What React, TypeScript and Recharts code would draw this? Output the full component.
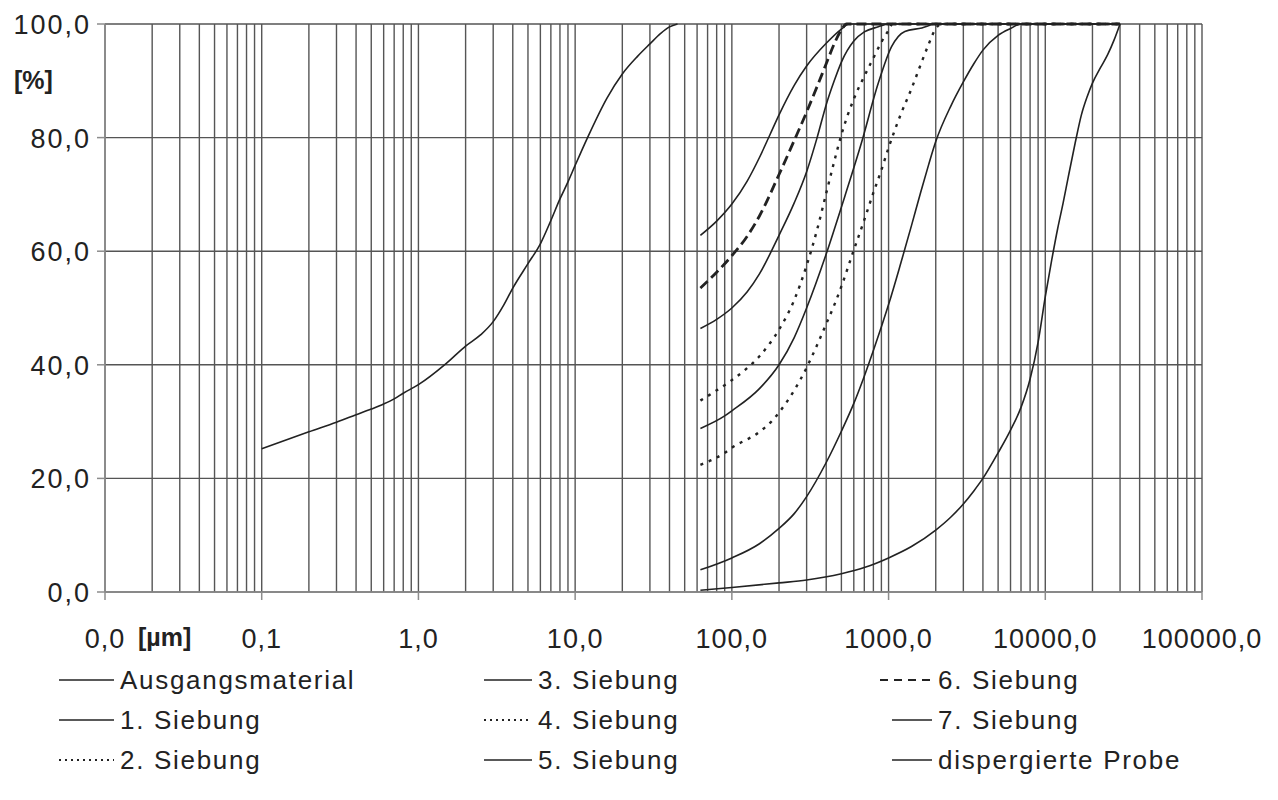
import { LineChart, Line, XAxis, YAxis, CartesianGrid } from 'recharts'

const FONT = '"Liberation Sans", Arial, sans-serif'
const INK = '#222'
const GRID = '#555'

// log grid: 1..9 in every decade from 0.01 to 100000
const gridTicks: number[] = []
for (let e = -2; e <= 4; e++) {
  for (let m = 1; m <= 9; m++) gridTicks.push(Number((m * 10 ** e).toPrecision(6)))
}
gridTicks.push(100000)

const yTicks = [0, 20, 40, 60, 80, 100]

// particle size [µm] / passing [%]
const ausgSize = [0.1, 0.2, 0.3, 0.4, 0.5, 0.6, 0.7, 0.8, 1, 1.5, 2, 2.5, 3, 3.5, 4, 5, 6, 7, 8, 9, 10, 12, 16, 20, 25, 30, 35, 40, 45]
const ausgPct = [25.2, 28.2, 29.9, 31.2, 32.2, 33.1, 34.0, 35.0, 36.5, 40.2, 43.3, 45.3, 47.6, 50.5, 53.5, 57.8, 61.3, 65.4, 69.2, 72.2, 75.1, 80.0, 87.0, 91.2, 94.3, 96.5, 98.3, 99.5, 100]

const sieb1Size = [63, 100, 200, 300, 500, 700, 1000, 1400, 2000, 2500, 3000, 3500, 4000, 5000, 6000, 7000, 8000, 9000, 10000, 11000, 12000, 13000, 14000, 15500, 17000, 18500, 20000, 22500, 25000, 27500, 30000]
const sieb1Pct = [0.3, 0.8, 1.6, 2.1, 3.2, 4.3, 6.0, 8.0, 10.9, 13.2, 15.5, 17.8, 20.0, 24.5, 28.5, 32.5, 37.5, 44.0, 52.0, 58.5, 64.0, 68.5, 73.0, 79.0, 84.0, 87.2, 89.6, 92.3, 94.6, 97.2, 100]

const sieb2Size = [63, 90, 100, 150, 180, 200, 250, 300, 350, 400, 450, 500, 600, 700, 800, 900, 1000, 1200, 1400, 1600, 1800, 2000, 2200, 30000]
const sieb2Pct = [22.4, 24.5, 25.4, 28.2, 30.1, 31.6, 35.5, 39.5, 43.5, 47.2, 50.5, 53.8, 60.2, 65.5, 70.3, 74.3, 78.2, 84.2, 88.6, 92.8, 96.4, 99.2, 100, 100]

const sieb3Size = [63, 90, 100, 150, 200, 250, 300, 400, 525, 670, 860, 1045, 1270, 1630, 2000, 30000]
const sieb3Pct = [28.8, 31.0, 31.9, 35.8, 40.0, 44.8, 50.0, 59.5, 69.6, 79.0, 89.6, 96.0, 98.7, 99.3, 100, 100]

const sieb4Size = [63, 80, 100, 125, 150, 175, 200, 250, 300, 350, 400, 450, 500, 600, 700, 800, 900, 1000, 1060, 30000]
const sieb4Pct = [33.7, 35.5, 37.3, 39.4, 41.5, 43.8, 46.2, 51.4, 57.5, 63.8, 70.2, 75.8, 80.5, 86.8, 90.8, 94.0, 96.8, 98.9, 100, 100]

const sieb5Size = [63, 80, 100, 125, 150, 200, 250, 300, 350, 400, 450, 500, 600, 700, 860, 1000, 30000]
const sieb5Pct = [46.4, 48.0, 50.0, 52.8, 56.0, 62.8, 68.5, 74.0, 80.0, 85.8, 90.0, 93.3, 97.0, 98.6, 99.5, 100, 100]

const sieb6Size = [63, 80, 100, 125, 150, 200, 250, 300, 350, 400, 450, 500, 540, 30000]
const sieb6Pct = [53.5, 56.3, 59.2, 62.6, 66.2, 73.5, 79.5, 84.5, 89.0, 93.0, 96.5, 99.0, 100, 100]

const sieb7Size = [63, 80, 100, 125, 150, 175, 200, 250, 300, 400, 500, 560, 30000]
const sieb7Pct = [62.8, 65.3, 68.3, 72.3, 76.5, 80.5, 84.0, 89.2, 92.6, 96.6, 99.1, 100, 100]

const dispSize = [63, 100, 150, 200, 250, 300, 400, 500, 600, 700, 800, 900, 1000, 1200, 1400, 1600, 1800, 2000, 2500, 3000, 3500, 4000, 5000, 6000, 7000, 30000]
const dispPct = [3.9, 6.0, 8.5, 11.2, 13.8, 16.8, 22.8, 28.3, 33.2, 38.0, 42.5, 46.7, 50.6, 58.0, 64.5, 70.3, 75.2, 79.3, 85.6, 89.8, 93.0, 95.4, 98.0, 99.2, 100, 100]

const toPoints = (size: number[], pct: number[]) => size.map((x, i) => ({ x, y: pct[i] }))

type Series = { name: string; size: number[]; pct: number[]; dash?: string; width: number; legendDash?: string }

const series: Series[] = [
  { name: 'Ausgangsmaterial', size: ausgSize, pct: ausgPct, width: 1.6 },
  { name: '1. Siebung', size: sieb1Size, pct: sieb1Pct, width: 1.6 },
  { name: '2. Siebung', size: sieb2Size, pct: sieb2Pct, dash: '3 6', width: 2.4, legendDash: '2 4' },
  { name: '3. Siebung', size: sieb3Size, pct: sieb3Pct, width: 1.6 },
  { name: '4. Siebung', size: sieb4Size, pct: sieb4Pct, dash: '3 6', width: 2.4, legendDash: '2 4' },
  { name: '5. Siebung', size: sieb5Size, pct: sieb5Pct, width: 1.6 },
  { name: '6. Siebung', size: sieb6Size, pct: sieb6Pct, dash: '10 5', width: 2.8, legendDash: '8 6' },
  { name: '7. Siebung', size: sieb7Size, pct: sieb7Pct, width: 1.6 },
  { name: 'dispergierte Probe', size: dispSize, pct: dispPct, width: 1.6 },
]

const isDecade = (v: number) => Math.abs(Math.log10(v) - Math.round(Math.log10(v))) < 1e-9
const fmt = (v: number) => v.toFixed(1).replace('.', ',')

function XTick({ x, y, payload }: any) {
  const v = payload.value
  if (!isDecade(v)) return null
  return (
    <g>
      <line x1={x} y1={y - 8} x2={x} y2={y} stroke='#8c8c8c' strokeWidth={1.5} />
      <text x={x} y={y + 48} textAnchor='middle' fontFamily={FONT} fontSize={27} fill={INK} letterSpacing={1}>
        {fmt(v)}
      </text>
      {v === 0.01 && (
        <text x={x + 33} y={y + 46} fontFamily={FONT} fontSize={25} fontWeight='bold' fill={INK}>
          [µm]
        </text>
      )}
    </g>
  )
}

function YTick({ x, y, payload }: any) {
  const v = payload.value
  return (
    <g>
      <line x1={x} y1={y} x2={x + 8} y2={y} stroke='#8c8c8c' strokeWidth={1.5} />
      <text x={x - 6} y={y + 10} textAnchor='end' fontFamily={FONT} fontSize={27} fill={INK} letterSpacing={2}>
        {fmt(v)}
      </text>
      {v === 100 && (
        <text x={x - 83} y={y + 65} fontFamily={FONT} fontSize={25} fontWeight='bold' fill={INK}>
          [%]
        </text>
      )}
    </g>
  )
}

// legend: three columns, filled column by column
const legendCols = [
  { line: 59, text: 120 },
  { line: 484, text: 538 },
  { line: 880, text: 938 },
]
const legendRows = [680, 720, 760]

function LegendBlock() {
  return (
    <>
      {series.map((s, i) => {
        const col = legendCols[Math.floor(i / 3)]
        const row = legendRows[i % 3]
        const span = col.text - col.line
        // solid samples are a little shorter than the dashed one in the last column
        const start = i >= 6 && !s.dash ? 12 : 0
        return (
          <div
            key={s.name}
            style={{ position: 'absolute', left: col.line, top: row - 17, height: 34, display: 'flex', alignItems: 'center' }}
          >
            <svg width={span} height={10}>
              <line x1={start} y1={5} x2={span - 6} y2={5} stroke={INK} strokeWidth={s.dash ? 2 : 1.4} strokeDasharray={s.legendDash} />
            </svg>
            <span style={{ fontFamily: FONT, fontSize: 26, color: INK, letterSpacing: 1.7, whiteSpace: 'nowrap' }}>{s.name}</span>
          </div>
        )
      })}
    </>
  )
}

export default function App() {
  return (
    <div style={{ position: 'absolute', left: 0, top: 0, width: 1278, height: 800, background: '#fff' }}>
      <LineChart width={1278} height={660} margin={{ top: 24, right: 76, bottom: 8, left: 0 }}>
        <CartesianGrid stroke={GRID} strokeWidth={1.4} />
        <XAxis
          dataKey='x'
          type='number'
          scale='log'
          domain={[0.01, 100000]}
          ticks={gridTicks}
          interval={0}
          allowDataOverflow
          height={60}
          tickSize={8}
          tickMargin={0}
          tickLine={false}
          tick={<XTick />}
          axisLine={{ stroke: '#8c8c8c', strokeWidth: 1.5 }}
        />
        <YAxis
          type='number'
          domain={[0, 100]}
          ticks={yTicks}
          interval={0}
          width={105}
          tickSize={8}
          tickMargin={0}
          tickLine={false}
          tick={<YTick />}
          axisLine={{ stroke: '#8c8c8c', strokeWidth: 1.5 }}
        />
        {series.map((s) => (
          <Line
            key={s.name}
            data={toPoints(s.size, s.pct)}
            dataKey='y'
            name={s.name}
            type='monotone'
            stroke={INK}
            strokeWidth={s.width}
            strokeDasharray={s.dash}
            dot={false}
            activeDot={false}
            isAnimationActive={false}
          />
        ))}
      </LineChart>
      <LegendBlock />
    </div>
  )
}
